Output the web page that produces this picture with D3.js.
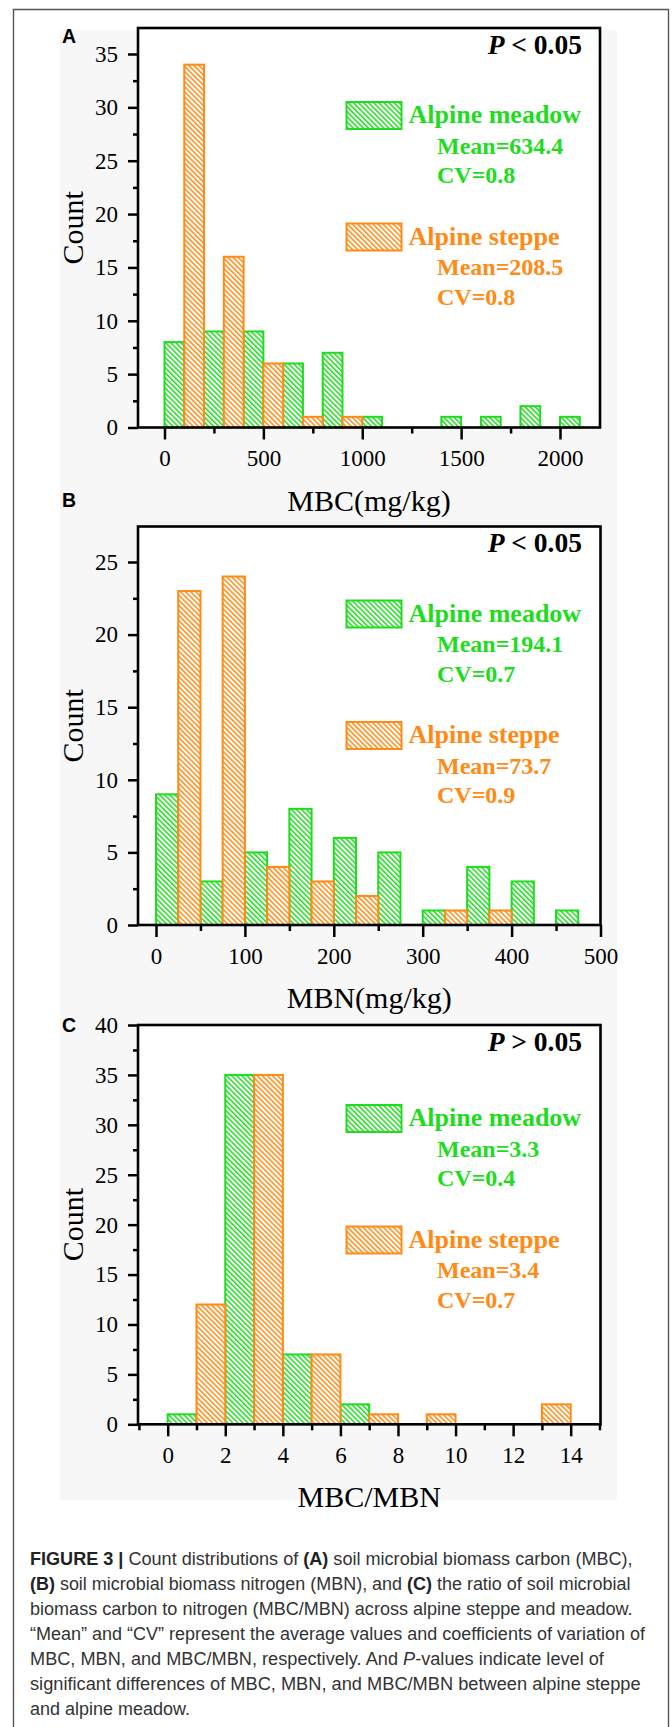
<!DOCTYPE html>
<html>
<head>
<meta charset="utf-8">
<script src="https://cdn.jsdelivr.net/npm/d3@7"></script>
<style>
  body { margin: 0; background: #fff; }
  svg text { font-family: "Liberation Serif", "Times New Roman", serif; }
</style>
</head>
<body>
<div id="figure"></div>
<script>
// ---- Data ----
// (A) MBC, bins of 100 mg/kg
var mbcBinWidth = 100;
var mbcMeadowStart = [0, 200, 400, 600, 800, 1000, 1400, 1600, 1800, 2000];
var mbcMeadowCount = [8, 9, 9, 6, 7, 1, 1, 1, 2, 1];
var mbcSteppeStart = [100, 300, 500, 700, 900];
var mbcSteppeCount = [34, 16, 6, 1, 1];

// (B) MBN, bins of 25 mg/kg
var mbnBinWidth = 25;
var mbnMeadowStart = [0, 50, 100, 150, 200, 250, 300, 350, 400, 450];
var mbnMeadowCount = [9, 3, 5, 8, 6, 5, 1, 4, 3, 1];
var mbnSteppeStart = [25, 75, 125, 175, 225, 325, 375];
var mbnSteppeCount = [23, 24, 4, 3, 2, 1, 1];

// (C) MBC/MBN, bins of 1
var ratioBinWidth = 1;
var ratioMeadowStart = [0, 2, 4, 6];
var ratioMeadowCount = [1, 35, 7, 2];
var ratioSteppeStart = [1, 3, 5, 7, 9, 13];
var ratioSteppeCount = [12, 35, 7, 1, 1, 2];

// tick labels
var mbcTicks = [0, 500, 1000, 1500, 2000];
var mbnTicks = [0, 100, 200, 300, 400, 500];
var ratioTicks = [0, 2, 4, 6, 8, 10, 12, 14];
var countTicksA = [0, 5, 10, 15, 20, 25, 30, 35];
var countTicksB = [0, 5, 10, 15, 20, 25];
var countTicksC = [0, 5, 10, 15, 20, 25, 30, 35, 40];

// labels and stats
var panelLetters = ["A", "B", "C"];
var xTitles = ["MBC(mg/kg)", "MBN(mg/kg)", "MBC/MBN"];
var pSigns = ["<", "<", ">"];
var seriesNames = ["Alpine meadow", "Alpine steppe"];
var meadowMeans = ["634.4", "194.1", "3.3"];
var meadowCVs = ["0.8", "0.7", "0.4"];
var steppeMeans = ["208.5", "73.7", "3.4"];
var steppeCVs = ["0.8", "0.9", "0.7"];

var captionLines = [
    [["FIGURE 3 | ", "b"], ["Count distributions of ", ""], ["(A)", "b"], [" soil microbial biomass carbon (MBC),", ""]],
    [["(B)", "b"], [" soil microbial biomass nitrogen (MBN), and ", ""], ["(C)", "b"], [" the ratio of soil microbial", ""]],
    [["biomass carbon to nitrogen (MBC/MBN) across alpine steppe and meadow.", ""]],
    [["\u201CMean\u201D and \u201CCV\u201D represent the average values and coefficients of variation of", ""]],
    [["MBC, MBN, and MBC/MBN, respectively. And ", ""], ["P", "i"], ["-values indicate level of", ""]],
    [["significant differences of MBC, MBN, and MBC/MBN between alpine steppe", ""]],
    [["and alpine meadow.", ""]]
];
var captionWidths = [603, 601, 603, 615, 574, 611, 160];

// ---- Layout ----
var green = "#1fdc1f", orange = "#ff8a14";
var W = 672, H = 1727;

var panels = [
    { meadow: [mbcMeadowStart, mbcMeadowCount], steppe: [mbcSteppeStart, mbcSteppeCount], bw: mbcBinWidth,
      xTicks: mbcTicks, yTicks: countTicksA,
      left: 138, right: 600, top: 28, bottom: 427.5, xr: [164.5, 560], yr: [427.5, 54], legendOff: 74, letterY: 43 },
    { meadow: [mbnMeadowStart, mbnMeadowCount], steppe: [mbnSteppeStart, mbnSteppeCount], bw: mbnBinWidth,
      xTicks: mbnTicks, yTicks: countTicksB,
      left: 138, right: 600.5, top: 526.5, bottom: 925, xr: [156, 600.5], yr: [925, 562], legendOff: 74, letterY: 507 },
    { meadow: [ratioMeadowStart, ratioMeadowCount], steppe: [ratioSteppeStart, ratioSteppeCount], bw: ratioBinWidth,
      xTicks: ratioTicks, yTicks: countTicksC,
      left: 138, right: 600.5, top: 1025, bottom: 1424.3, xr: [167.7, 570.7], yr: [1424.3, 1025], legendOff: 80, letterY: 1032 }
];

var svg = d3.select("#figure").append("svg")
    .attr("width", W)
    .attr("height", H);

// hatch patterns (\\\ lines)
var defs = svg.append("defs");
[["hatchGreen", green], ["hatchOrange", orange]].forEach(function(p) {
    var pat = defs.append("pattern")
        .attr("id", p[0])
        .attr("patternUnits", "userSpaceOnUse")
        .attr("width", 3.6)
        .attr("height", 10)
        .attr("patternTransform", "rotate(-45)");
    pat.append("rect").attr("width", 3.6).attr("height", 10).attr("fill", "#fff");
    pat.append("rect").attr("width", 1.5).attr("height", 10).attr("fill", p[1]);
});

// outer frame + faint figure background
svg.append("rect")
    .attr("x", 60).attr("y", 30)
    .attr("width", 557).attr("height", 1470)
    .attr("fill", "#f7f7f7");
svg.append("path")
    .attr("d", "M13.5," + (H + 5) + "V9.5H668.5V" + (H + 5))
    .attr("fill", "none")
    .attr("stroke", "#555")
    .attr("stroke-width", 1.4);

function minorTicks(scale, majors, lo, hi) {
    var step = (majors[1] - majors[0]) / 2;
    var a = Math.ceil(scale.invert(lo) / step - 1e-6), b = Math.floor(scale.invert(hi) / step + 1e-6);
    return d3.range(a, b + 1).map(function(k) { return k * step; })
        .filter(function(v) { return majors.indexOf(v) < 0; });
}

panels.forEach(function(p, i) {
    var x = d3.scaleLinear().domain([p.xTicks[0], p.xTicks[p.xTicks.length - 1]]).range(p.xr);
    var y = d3.scaleLinear().domain([p.yTicks[0], p.yTicks[p.yTicks.length - 1]]).range(p.yr);
    var g = svg.append("g");

    // plot area
    g.append("rect")
        .attr("x", p.left).attr("y", p.top)
        .attr("width", p.right - p.left).attr("height", p.bottom - p.top)
        .attr("fill", "#fff");

    // bars
    [[p.meadow, green, "hatchGreen"], [p.steppe, orange, "hatchOrange"]].forEach(function(s) {
        var rows = s[0][0].map(function(st, j) { return { start: st, count: s[0][1][j] }; });
        g.selectAll(null)
            .data(rows)
            .enter().append("rect")
            .attr("x", function(d) { return x(d.start); })
            .attr("width", function(d) { return x(d.start + p.bw) - x(d.start); })
            .attr("y", function(d) { return y(d.count); })
            .attr("height", function(d) { return y(0) - y(d.count); })
            .attr("fill", "url(#" + s[2] + ")")
            .attr("stroke", s[1])
            .attr("stroke-width", 2);
    });

    // axes: major + minor ticks
    var xMinor = minorTicks(x, p.xTicks, p.left, p.right);
    var yMinor = minorTicks(y, p.yTicks, p.bottom, p.top);

    var xAxis = g.append("g")
        .attr("transform", "translate(0," + p.bottom + ")")
        .call(d3.axisBottom(x).tickValues(p.xTicks).tickSize(12).tickFormat(d3.format("d")));
    xAxis.selectAll(".tick text")
        .attr("y", 31).attr("dy", null)
        .attr("dominant-baseline", "central");
    g.append("g")
        .attr("transform", "translate(0," + p.bottom + ")")
        .call(d3.axisBottom(x).tickValues(xMinor).tickSize(6).tickFormat(""));

    g.append("g")
        .attr("transform", "translate(" + p.left + ",0)")
        .call(d3.axisLeft(y).tickValues(p.yTicks).tickSize(10).tickPadding(10));
    g.append("g")
        .attr("transform", "translate(" + p.left + ",0)")
        .call(d3.axisLeft(y).tickValues(yMinor).tickSize(5).tickFormat(""));

    g.selectAll(".domain").remove();
    g.selectAll(".tick line").attr("stroke", "#000").attr("stroke-width", 2.5);
    g.selectAll(".tick text")
        .attr("fill", "#000")
        .style("font-family", "'Liberation Serif', serif")
        .style("font-size", "23px");

    // frame of the plot
    g.append("rect")
        .attr("x", p.left).attr("y", p.top)
        .attr("width", p.right - p.left).attr("height", p.bottom - p.top)
        .attr("fill", "none")
        .attr("stroke", "#000")
        .attr("stroke-width", 2.6);

    // titles
    g.append("text")
        .attr("x", (p.left + p.right) / 2)
        .attr("y", p.bottom + 83)
        .attr("text-anchor", "middle")
        .style("font-size", "30px")
        .text(xTitles[i]);
    g.append("text")
        .attr("transform", "translate(72," + (p.top + p.bottom) / 2 + ") rotate(-90)")
        .attr("text-anchor", "middle")
        .attr("dominant-baseline", "central")
        .style("font-size", "30px")
        .text("Count");
    g.append("text")
        .attr("x", 62)
        .attr("y", p.letterY)
        .style("font-family", "'Liberation Sans', Arial, sans-serif")
        .style("font-weight", "bold")
        .style("font-size", "19.5px")
        .text(panelLetters[i]);

    // P value
    var pt = g.append("text")
        .attr("x", 582)
        .attr("y", p.top + 25.5)
        .attr("text-anchor", "end")
        .style("font-weight", "bold")
        .style("font-size", "27.5px");
    pt.append("tspan").style("font-style", "italic").text("P");
    pt.append("tspan").text(" " + pSigns[i] + " 0.05");

    // legend
    var ly = p.top + p.legendOff;
    [[green, "hatchGreen", seriesNames[0], meadowMeans[i], meadowCVs[i], 0],
     [orange, "hatchOrange", seriesNames[1], steppeMeans[i], steppeCVs[i], 121.5]].forEach(function(l) {
        var top = ly + l[5];
        g.append("rect")
            .attr("x", 346.5).attr("y", top)
            .attr("width", 55).attr("height", 27)
            .attr("fill", "url(#" + l[1] + ")")
            .attr("stroke", l[0])
            .attr("stroke-width", 2);
        g.append("text")
            .attr("x", 408.5).attr("y", top + 21)
            .attr("fill", l[0])
            .style("font-weight", "bold")
            .style("font-size", "26px")
            .text(l[2]);
        g.append("text")
            .attr("x", 437).attr("y", top + 51.5)
            .attr("fill", l[0])
            .style("font-weight", "bold")
            .style("font-size", "24px")
            .text("Mean=" + l[3]);
        g.append("text")
            .attr("x", 437).attr("y", top + 81)
            .attr("fill", l[0])
            .style("font-weight", "bold")
            .style("font-size", "24px")
            .text("CV=" + l[4]);
    });
});

// caption
captionLines.forEach(function(line, i) {
    var t = svg.append("text")
        .attr("x", 0)
        .attr("y", 0)
        .attr("fill", "#333")
        .style("font-family", "'Liberation Sans', Arial, sans-serif")
        .style("font-size", "18.5px");
    line.forEach(function(seg) {
        var ts = t.append("tspan").text(seg[0]);
        if (seg[1] === "b") ts.style("font-weight", "bold").attr("fill", "#222");
        if (seg[1] === "i") ts.style("font-style", "italic");
    });
    var w = t.node().getComputedTextLength();
    var k = captionWidths[i] / w;
    t.attr("transform", "translate(30," + (1565 + i * 25) + ") scale(" + k + ",1)");
});
</script>
</body>
</html>
